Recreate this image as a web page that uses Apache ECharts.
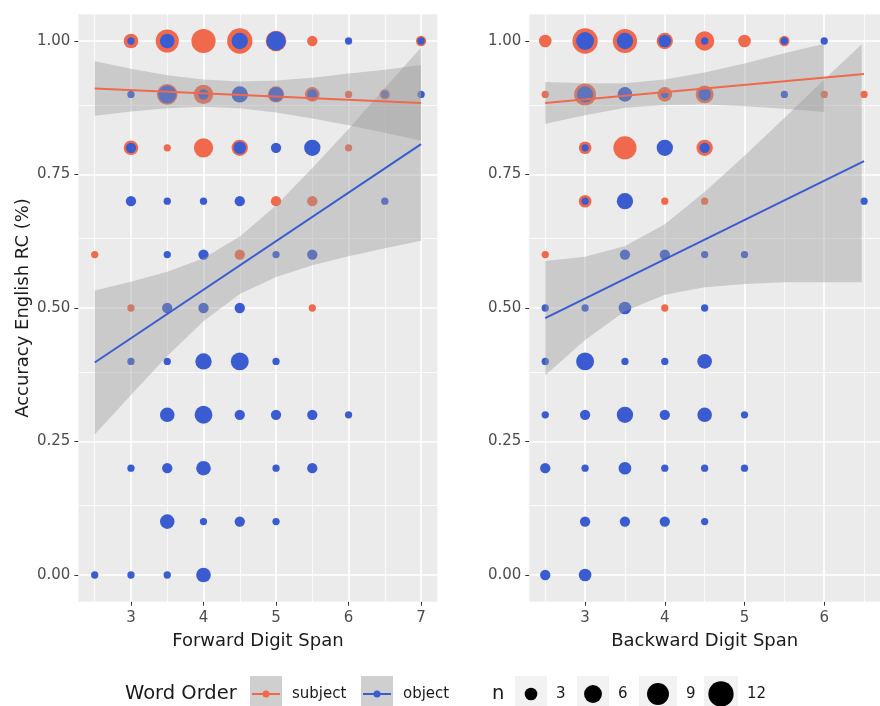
<!DOCTYPE html>
<html>
<head>
<meta charset="utf-8">
<script src="https://cdn.jsdelivr.net/npm/echarts@6/dist/echarts.min.js"></script>
<style>
  html, body { margin: 0; padding: 0; background: #fff; }
  #chart { width: 880px; height: 706px; }
</style>
</head>
<body>
<div id="chart"></div>
<script>
// --- data: [digit span, accuracy, n participants] ---
var forwardSubject = [
  [3, 1, 4], [3.5, 1, 10], [4, 1, 11], [4.5, 1, 12], [5, 1, 8], [5.5, 1, 2], [7, 1, 2],
  [3.5, 0.9, 8], [4, 0.9, 7], [5, 0.9, 5], [5.5, 0.9, 4], [6, 0.9, 1], [6.5, 0.9, 2],
  [3, 0.8, 4], [3.5, 0.8, 1], [4, 0.8, 7], [4.5, 0.8, 5], [6, 0.8, 1],
  [5, 0.7, 2], [5.5, 0.7, 2],
  [2.5, 0.6, 1], [4.5, 0.6, 2],
  [3, 0.5, 1], [5.5, 0.5, 1]
];
var forwardObject = [
  [3, 1, 1], [3.5, 1, 4], [4.5, 1, 5], [5, 1, 7], [6, 1, 1], [7, 1, 1],
  [3, 0.9, 1], [3.5, 0.9, 6], [4, 0.9, 2], [4.5, 0.9, 5], [5, 0.9, 4], [5.5, 0.9, 2], [6.5, 0.9, 1], [7, 0.9, 1],
  [3, 0.8, 2], [4.5, 0.8, 3], [5, 0.8, 2], [5.5, 0.8, 5],
  [3, 0.7, 2], [3.5, 0.7, 1], [4, 0.7, 1], [4.5, 0.7, 2], [6.5, 0.7, 1],
  [3.5, 0.6, 1], [4, 0.6, 2], [5, 0.6, 1], [5.5, 0.6, 2],
  [3.5, 0.5, 2], [4, 0.5, 2], [4.5, 0.5, 2],
  [3, 0.4, 1], [3.5, 0.4, 1], [4, 0.4, 5], [4.5, 0.4, 6], [5, 0.4, 1],
  [3.5, 0.3, 4], [4, 0.3, 6], [4.5, 0.3, 2], [5, 0.3, 2], [5.5, 0.3, 2], [6, 0.3, 1],
  [3, 0.2, 1], [3.5, 0.2, 2], [4, 0.2, 4], [5, 0.2, 1], [5.5, 0.2, 2],
  [3.5, 0.1, 4], [4, 0.1, 1], [4.5, 0.1, 2], [5, 0.1, 1],
  [2.5, 0, 1], [3, 0, 1], [3.5, 0, 1], [4, 0, 4]
];
var backwardSubject = [
  [2.5, 1, 3], [3, 1, 12], [3.5, 1, 11], [4, 1, 5], [4.5, 1, 7], [5, 1, 3], [5.5, 1, 2],
  [2.5, 0.9, 1], [3, 0.9, 9], [4, 0.9, 4], [4.5, 0.9, 6], [6, 0.9, 1], [6.5, 0.9, 1],
  [3, 0.8, 3], [3.5, 0.8, 10], [4.5, 0.8, 5],
  [3, 0.7, 3], [4, 0.7, 1], [4.5, 0.7, 1],
  [2.5, 0.6, 1],
  [4, 0.5, 1]
];
var backwardObject = [
  [3, 1, 6], [3.5, 1, 5], [4, 1, 3], [4.5, 1, 1], [5.5, 1, 1], [6, 1, 1],
  [3, 0.9, 5], [3.5, 0.9, 4], [4, 0.9, 1], [4.5, 0.9, 3], [5.5, 0.9, 1],
  [3, 0.8, 1], [4, 0.8, 5], [4.5, 0.8, 2],
  [3, 0.7, 1], [3.5, 0.7, 5], [6.5, 0.7, 1],
  [3.5, 0.6, 2], [4, 0.6, 2], [4.5, 0.6, 1], [5, 0.6, 1],
  [2.5, 0.5, 1], [3, 0.5, 1], [3.5, 0.5, 3], [4.5, 0.5, 1],
  [2.5, 0.4, 1], [3, 0.4, 6], [3.5, 0.4, 1], [4, 0.4, 1], [4.5, 0.4, 4],
  [2.5, 0.3, 1], [3, 0.3, 2], [3.5, 0.3, 5], [4, 0.3, 2], [4.5, 0.3, 4], [5, 0.3, 1],
  [2.5, 0.2, 2], [3, 0.2, 1], [3.5, 0.2, 3], [4, 0.2, 1], [4.5, 0.2, 1], [5, 0.2, 1],
  [3, 0.1, 2], [3.5, 0.1, 2], [4, 0.1, 2], [4.5, 0.1, 1],
  [2.5, 0, 2], [3, 0, 3]
];

// fitted lines (ends) and confidence bands [x, lower, upper]
var forwardSubjectFit = [[2.5, 0.911], [7, 0.884]];
var forwardObjectFit = [[2.5, 0.398], [7, 0.807]];
var backwardSubjectFit = [[2.5, 0.884], [6.5, 0.938]];
var backwardObjectFit = [[2.5, 0.481], [6.5, 0.775]];

var forwardSubjectBand = [[2.5, 0.860, 0.962], [3, 0.868, 0.948], [3.5, 0.874, 0.936], [4, 0.877, 0.928],
  [4.5, 0.874, 0.924], [5, 0.866, 0.926], [5.5, 0.855, 0.931], [6, 0.842, 0.939], [6.5, 0.828, 0.946], [7, 0.813, 0.955]];
var forwardObjectBand = [[2.5, 0.263, 0.533], [3, 0.337, 0.549], [3.5, 0.410, 0.568], [4, 0.475, 0.593],
  [4.5, 0.526, 0.634], [5, 0.558, 0.692], [5.5, 0.580, 0.762], [6, 0.597, 0.835], [6.5, 0.612, 0.912], [7, 0.626, 0.988]];
var backwardSubjectBand = [[2.5, 0.845, 0.923], [3, 0.861, 0.921], [3.5, 0.875, 0.921], [4, 0.880, 0.928],
  [4.5, 0.881, 0.941], [5, 0.878, 0.958], [5.5, 0.873, 0.977], [6, 0.867, 0.995]];
var backwardObjectBand = [[2.5, 0.374, 0.588], [3, 0.440, 0.596], [3.5, 0.494, 0.616], [4, 0.525, 0.657],
  [4.5, 0.539, 0.717], [5, 0.545, 0.785], [5.5, 0.548, 0.856], [6, 0.548, 0.928], [6.47, 0.548, 0.994]];

var forwardTicks = [3, 4, 5, 6, 7];
var backwardTicks = [3, 4, 5, 6];
var accuracyTicks = [0, 0.25, 0.5, 0.75, 1];
var sizeBreaks = [3, 6, 9, 12];

var SUBJECT = '#F0694C';
var OBJECT = '#3A5CD0';
var FONT = 'DejaVu Sans';

function sizeFor(n) {
    return 7.3 * Math.sqrt(n);
}

function midpoints(ticks, lo, hi) {
    var out = [];
    var step = ticks[1] - ticks[0];
    for (var i = -1; i < ticks.length; i++) {
        var v = (i < 0 ? ticks[0] - step : ticks[i]) + step / 2;
        if (v > lo && v < hi) {
            out.push(v);
        }
    }
    return out;
}

function gridLines(idx, xs, ys, width) {
    var marks = [];
    xs.forEach(function (v) { marks.push({ xAxis: v }); });
    ys.forEach(function (v) { marks.push({ yAxis: v }); });
    return {
        type: 'line', xAxisIndex: idx, yAxisIndex: idx, silent: true,
        data: [[xs[0], ys[0]]], showSymbol: false, symbol: 'none',
        lineStyle: { opacity: 0 }, z: 1,
        markLine: {
            silent: true, z: 1, symbol: ['none', 'none'], animation: false,
            label: { show: false },
            lineStyle: { color: '#FFFFFF', type: 'solid', width: width },
            emphasis: { disabled: true },
            data: marks
        }
    };
}

function band(idx, rows) {
    return {
        type: 'custom', xAxisIndex: idx, yAxisIndex: idx, silent: true, z: 3,
        data: rows,
        encode: { x: 0, y: [1, 2] },
        renderItem: function (params, api) {
            if (params.dataIndex !== 0) {
                return;
            }
            var pts = [];
            var i;
            for (i = 0; i < rows.length; i++) {
                pts.push(api.coord([rows[i][0], rows[i][2]]));
            }
            for (i = rows.length - 1; i >= 0; i--) {
                pts.push(api.coord([rows[i][0], rows[i][1]]));
            }
            return {
                type: 'polygon',
                shape: { points: pts },
                style: { fill: 'rgba(153,153,153,0.4)' }
            };
        }
    };
}

function dots(idx, name, rows, color) {
    return {
        name: name, type: 'scatter', xAxisIndex: idx, yAxisIndex: idx, z: 2,
        data: rows,
        symbol: 'circle',
        symbolSize: function (v) { return sizeFor(v[2]); },
        itemStyle: { color: color, opacity: 1 }
    };
}

function fit(idx, rows, color) {
    return {
        type: 'line', xAxisIndex: idx, yAxisIndex: idx, z: 4, silent: true,
        data: rows, showSymbol: false, symbol: 'none',
        lineStyle: { color: color, width: 2 }
    };
}

function xAxis(idx, min, max, ticks, title) {
    return {
        type: 'value', gridIndex: idx, min: min, max: max,
        axisLine: { show: false, onZero: false },
        splitLine: { show: false },
        axisTick: { show: true, length: 4, lineStyle: { color: '#333333', width: 1 }, customValues: ticks },
        axisLabel: { customValues: ticks, color: '#4D4D4D', fontSize: 15, fontFamily: FONT, margin: 9 },
        name: title, nameLocation: 'middle', nameGap: 31,
        nameTextStyle: { color: '#1A1A1A', fontSize: 18, fontFamily: FONT }
    };
}

function yAxis(idx, title) {
    var ax = {
        type: 'value', gridIndex: idx, min: -0.05, max: 1.05,
        axisLine: { show: false, onZero: false },
        splitLine: { show: false },
        axisTick: { show: true, length: 4, lineStyle: { color: '#333333', width: 1 }, customValues: accuracyTicks },
        axisLabel: {
            customValues: accuracyTicks, color: '#4D4D4D', fontSize: 15, fontFamily: FONT, margin: 8,
            formatter: function (v) { return v.toFixed(2); }
        }
    };
    if (title) {
        ax.name = title;
        ax.nameLocation = 'middle';
        ax.nameGap = 46;
        ax.nameTextStyle = { color: '#1A1A1A', fontSize: 18, fontFamily: FONT };
    }
    return ax;
}

var fwdMin = 2.275, fwdMax = 7.225, bwdMin = 2.3, bwdMax = 6.7;
var yMinor = midpoints(accuracyTicks, -0.05, 1.05);

var series = [
    gridLines(0, midpoints(forwardTicks, fwdMin, fwdMax), yMinor, 0.8),
    gridLines(0, forwardTicks, accuracyTicks, 1.7),
    dots(0, 'subject', forwardSubject, SUBJECT),
    dots(0, 'object', forwardObject, OBJECT),
    band(0, forwardSubjectBand),
    band(0, forwardObjectBand),
    fit(0, forwardSubjectFit, SUBJECT),
    fit(0, forwardObjectFit, OBJECT),

    gridLines(1, midpoints(backwardTicks, bwdMin, bwdMax), yMinor, 0.8),
    gridLines(1, backwardTicks, accuracyTicks, 1.7),
    dots(1, 'subject', backwardSubject, SUBJECT),
    dots(1, 'object', backwardObject, OBJECT),
    band(1, backwardSubjectBand),
    band(1, backwardObjectBand),
    fit(1, backwardSubjectFit, SUBJECT),
    fit(1, backwardObjectFit, OBJECT)
];

// bottom legend, drawn as graphics (ggplot style keys)
var legendY = 694;
var legendItems = [];
function txt(x, s, size) {
    legendItems.push({
        type: 'text', x: x, y: legendY,
        style: { text: s, fill: '#1A1A1A', font: size + 'px "' + FONT + '"', verticalAlign: 'middle', align: 'left' }
    });
}
function lineKey(x, color) {
    legendItems.push({ type: 'rect', shape: { x: x, y: 676, width: 32, height: 36 }, style: { fill: '#CFCFCF' } });
    legendItems.push({ type: 'line', shape: { x1: x + 2, y1: legendY, x2: x + 30, y2: legendY }, style: { stroke: color, lineWidth: 2 } });
    legendItems.push({ type: 'circle', shape: { cx: x + 16, cy: legendY, r: 3.5 }, style: { fill: color } });
}
txt(125, 'Word Order', 19.5);
lineKey(250, SUBJECT);
txt(292, 'subject', 15);
lineKey(361, OBJECT);
txt(403, 'object', 15);
txt(492, 'n', 19.5);
var keyX = [515, 577, 639, 704];
var keyW = [32, 32, 38, 34];
sizeBreaks.forEach(function (n, i) {
    legendItems.push({ type: 'rect', shape: { x: keyX[i], y: 676, width: keyW[i], height: 36 }, style: { fill: '#F2F2F2' } });
    legendItems.push({ type: 'circle', shape: { cx: keyX[i] + keyW[i] / 2, cy: legendY, r: sizeFor(n) / 2 }, style: { fill: '#000000' } });
    txt(keyX[i] + keyW[i] + 9, String(n), 15);
});

var chart = echarts.init(document.getElementById('chart'), null, { renderer: 'canvas' });
chart.setOption({
    animation: false,
    backgroundColor: '#FFFFFF',
    grid: [
        { left: 78.4, top: 14.3, width: 359, height: 587.4, show: true, backgroundColor: '#EBEBEB', borderWidth: 0 },
        { left: 529.3, top: 14.3, width: 356.4, height: 587.4, show: true, backgroundColor: '#EBEBEB', borderWidth: 0 }
    ],
    xAxis: [
        xAxis(0, fwdMin, fwdMax, forwardTicks, 'Forward Digit Span'),
        xAxis(1, bwdMin, bwdMax, backwardTicks, 'Backward Digit Span')
    ],
    yAxis: [
        yAxis(0, 'Accuracy English RC (%)'),
        yAxis(1, null)
    ],
    series: series,
    graphic: legendItems
});
</script>
</body>
</html>
